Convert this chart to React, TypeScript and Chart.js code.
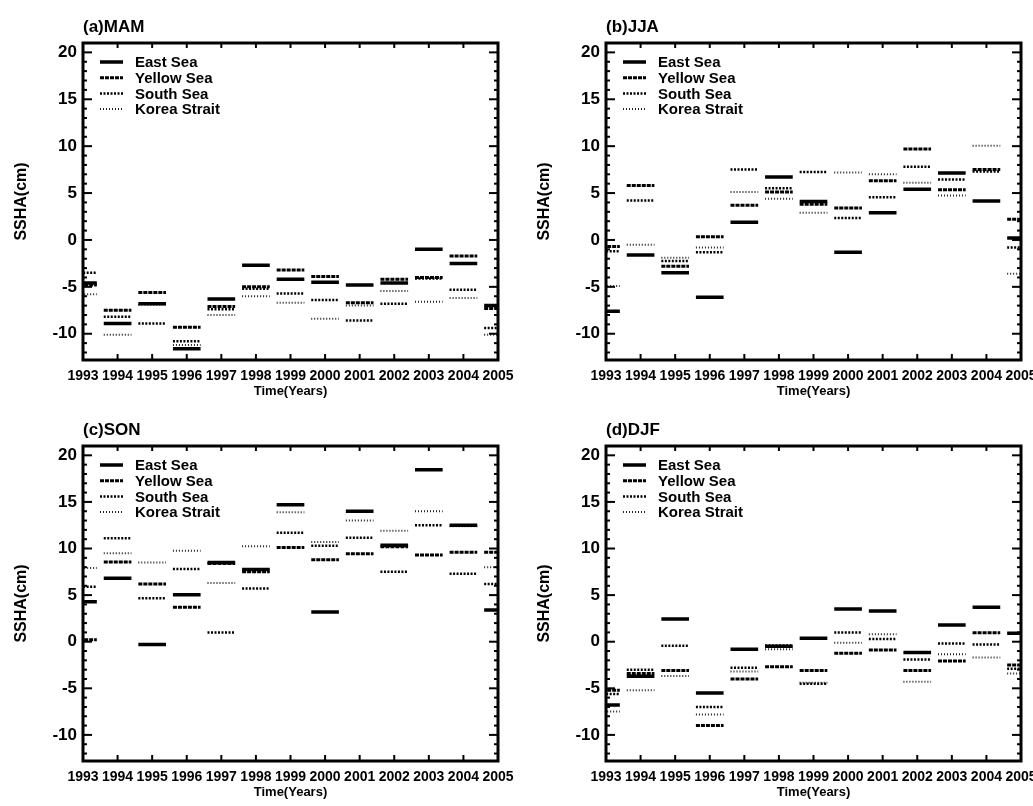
import React, { useEffect, useRef } from "react";
import { Chart, registerables } from "chart.js";

Chart.register(...registerables);

// ---------- data ----------
const years = [1993, 1994, 1995, 1996, 1997, 1998, 1999, 2000, 2001, 2002, 2003, 2004, 2005];
const seriesNames = ["East Sea", "Yellow Sea", "South Sea", "Korea Strait"];
const yTickValues = [-10, -5, 0, 5, 10, 15, 20];
const yMin = -12.8;
const yMax = 21;
const panelTitles = ["(a)MAM", "(b)JJA", "(c)SON", "(d)DJF"];

// (a) MAM
const mamEast = [-4.6, -8.9, -6.8, -11.6, -6.3, -2.7, -4.2, -4.5, -4.8, -4.6, -1.0, -2.5, -7.0];
const mamYellow = [-4.8, -7.5, -5.6, -9.3, -7.1, -5.0, -3.2, -3.9, -6.7, -4.2, -4.0, -1.7, -7.3];
const mamSouth = [-3.5, -8.2, -8.9, -10.8, -7.4, -5.2, -5.7, -6.4, -8.6, -6.8, -4.1, -5.3, -9.4];
const mamKorea = [-5.8, -10.1, -6.9, -11.2, -8.0, -6.0, -6.7, -8.4, -7.0, -5.45, -6.6, -6.2, -10.1];

// (b) JJA
const jjaEast = [-7.6, -1.6, -3.5, -6.1, 1.9, 6.7, 4.1, -1.3, 2.9, 5.4, 7.15, 4.15, 0.2];
const jjaYellow = [-0.7, 5.8, -2.8, 0.35, 3.7, 5.1, 3.8, 3.4, 6.3, 9.7, 5.35, 7.5, 2.2];
const jjaSouth = [-1.2, 4.2, -2.25, -1.3, 7.5, 5.5, 7.25, 2.35, 4.55, 7.8, 6.45, 7.3, -0.8];
const jjaKorea = [-4.9, -0.5, -1.9, -0.8, 5.1, 4.4, 2.9, 7.2, 7.0, 6.1, 4.75, 10.05, -3.6];

// (c) SON
const sonEast = [4.3, 6.8, -0.3, 5.05, 8.5, 7.75, 14.7, 3.2, 14.0, 10.35, 18.45, 12.5, 3.4];
const sonYellow = [0.2, 8.55, 6.2, 3.7, 8.4, 7.5, 10.1, 8.8, 9.45, 10.2, 9.3, 9.6, 9.6];
const sonSouth = [5.9, 11.1, 4.65, 7.8, 1.0, 5.7, 11.7, 10.3, 11.15, 7.5, 12.5, 7.3, 6.2];
const sonKorea = [7.9, 9.5, 8.5, 9.75, 6.3, 10.25, 13.9, 10.7, 13.0, 11.9, 14.0, 12.4, 8.0];

// (d) DJF
const djfEast = [-6.8, -3.7, 2.43, -5.5, -0.8, -0.5, 0.36, 3.5, 3.3, -1.15, 1.8, 3.7, 0.9];
const djfYellow = [-5.2, -3.4, -3.1, -9.0, -4.0, -2.7, -3.1, -1.25, -0.9, -3.1, -2.07, 0.97, -2.5];
const djfSouth = [-5.6, -3.0, -0.43, -7.0, -2.8, -0.4, -4.5, 1.0, 0.3, -1.9, -0.2, -0.3, -2.9];
const djfKorea = [-7.5, -5.2, -3.67, -7.8, -3.2, -0.8, -4.4, -0.1, 0.8, -4.3, -1.35, -1.7, -3.4];

const panelSeries = [
  [mamEast, mamYellow, mamSouth, mamKorea],
  [jjaEast, jjaYellow, jjaSouth, jjaKorea],
  [sonEast, sonYellow, sonSouth, sonKorea],
  [djfEast, djfYellow, djfSouth, djfKorea],
];

// ---------- styles ----------
const lineStyles = [
  { color: "#000", width: 3.5, dash: [] as number[] },
  { color: "#000", width: 3, dash: [4, 1] },
  { color: "#000", width: 2.5, dash: [2, 1.5] },
  { color: "#222", width: 2, dash: [1, 2] },
];
const HALF = 0.4;
const FONT = '"Liberation Sans", Arial, sans-serif';

// canvas placement and chart-area geometry (px)
const panelBoxes = [
  { left: 0, top: 0, w: 515, h: 400, areaLeft: 83, areaTop: 43, areaRight: 498, areaBottom: 360 },
  { left: 520, top: 0, w: 513, h: 400, areaLeft: 86, areaTop: 43, areaRight: 501, areaBottom: 360 },
  { left: 0, top: 403, w: 515, h: 403, areaLeft: 83, areaTop: 43, areaRight: 498, areaBottom: 358 },
  { left: 520, top: 403, w: 513, h: 403, areaLeft: 86, areaTop: 43, areaRight: 501, areaBottom: 358 },
];

function buildSegments(values: number[]) {
  const pts: { x: number; y: number | null }[] = [];
  values.forEach((v, i) => {
    pts.push({ x: years[i] - HALF, y: v });
    pts.push({ x: years[i] + HALF, y: v });
    pts.push({ x: years[i] + HALF, y: null });
  });
  return pts;
}

const framePlugin = {
  id: "frame",
  afterDraw(chart: any, _args: any, opts: any) {
    const { ctx, chartArea: a, scales } = chart;
    const xs = scales.x;
    const ys = scales.y;
    const seg = (x1: number, y1: number, x2: number, y2: number) => {
      ctx.beginPath();
      ctx.moveTo(x1, y1);
      ctx.lineTo(x2, y2);
      ctx.stroke();
    };
    ctx.save();
    ctx.strokeStyle = "#000";
    ctx.fillStyle = "#000";
    ctx.setLineDash([]);
    ctx.lineWidth = 3;
    ctx.strokeRect(a.left, a.top, a.right - a.left, a.bottom - a.top);

    ctx.lineWidth = 2;
    for (let v = Math.ceil(ys.min); v <= ys.max; v++) {
      const py = ys.getPixelForValue(v);
      const len = v % 5 === 0 ? 9 : 4;
      seg(a.left, py, a.left + len, py);
      seg(a.right, py, a.right - len, py);
    }
    years.forEach((yr) => {
      const px = xs.getPixelForValue(yr);
      seg(px, a.bottom, px, a.bottom - 6);
      seg(px, a.top, px, a.top + 5);
    });

    // panel title
    ctx.font = `bold 17px ${FONT}`;
    ctx.textAlign = "left";
    ctx.textBaseline = "middle";
    ctx.fillText(opts.title, a.left, a.top - 16);

    // y title
    ctx.save();
    ctx.translate(a.left - 61, (a.top + a.bottom) / 2);
    ctx.rotate(-Math.PI / 2);
    ctx.textAlign = "center";
    ctx.font = `bold 16px ${FONT}`;
    ctx.fillText("SSHA(cm)", 0, 0);
    ctx.restore();

    // x title
    ctx.font = `bold 13px ${FONT}`;
    ctx.textAlign = "center";
    ctx.fillText("Time(Years)", (a.left + a.right) / 2, a.bottom + 31);

    // legend
    ctx.font = `bold 15px ${FONT}`;
    ctx.textAlign = "left";
    chart.data.datasets.forEach((ds: any, i: number) => {
      const ly = a.top + 19 + i * 15.7;
      ctx.strokeStyle = ds.borderColor;
      ctx.lineWidth = ds.borderWidth;
      ctx.setLineDash(ds.borderDash || []);
      seg(a.left + 17, ly, a.left + 40, ly);
      ctx.setLineDash([]);
      ctx.fillText(ds.label, a.left + 52, ly + 1);
    });
    ctx.restore();
  },
};

function Panel({ idx }: { idx: number }) {
  const ref = useRef<HTMLCanvasElement | null>(null);
  const box = panelBoxes[idx];
  useEffect(() => {
    if (!ref.current) return;
    const datasets = panelSeries[idx].map((vals, i) => ({
      type: "line" as const,
      label: seriesNames[i],
      data: buildSegments(vals),
      borderColor: lineStyles[i].color,
      borderWidth: lineStyles[i].width,
      borderDash: lineStyles[i].dash,
      pointRadius: 0,
      spanGaps: false,
      clip: 0,
      fill: false,
      tension: 0,
    }));
    const chart = new Chart(ref.current, {
      type: "line",
      data: { datasets },
      options: {
        animation: false,
        responsive: false,
        maintainAspectRatio: false,
        events: [],
        layout: {
          padding: { top: box.areaTop, right: box.w - box.areaRight, left: 0, bottom: 0 },
        },
        plugins: {
          legend: { display: false },
          tooltip: { enabled: false },
          frame: { title: panelTitles[idx] },
        } as any,
        scales: {
          x: {
            type: "linear",
            min: years[0],
            max: years[years.length - 1],
            grid: { display: false, drawTicks: false },
            border: { display: false },
            afterBuildTicks: (s: any) => {
              s.ticks = years.map((v) => ({ value: v }));
            },
            afterFit: (s: any) => {
              s.height = box.h - box.areaBottom;
              s.paddingLeft = 0;
              s.paddingRight = 0;
            },
            ticks: {
              autoSkip: false,
              maxRotation: 0,
              minRotation: 0,
              padding: 8,
              color: "#000",
              font: { family: FONT, size: 14, weight: "bold" },
              callback: (v: any) => String(v),
            },
          },
          y: {
            type: "linear",
            min: yMin,
            max: yMax,
            grid: { display: false, drawTicks: false },
            border: { display: false },
            afterBuildTicks: (s: any) => {
              s.ticks = yTickValues.map((v) => ({ value: v }));
            },
            afterFit: (s: any) => {
              s.width = box.areaLeft;
              s.paddingTop = 0;
              s.paddingBottom = 0;
            },
            ticks: {
              padding: 6,
              color: "#000",
              font: { family: FONT, size: 17, weight: "bold" },
              callback: (v: any) => String(v),
            },
          },
        },
      },
      plugins: [framePlugin],
    } as any);
    return () => chart.destroy();
  }, [idx]);
  return (
    <canvas
      ref={ref}
      width={box.w}
      height={box.h}
      style={{ position: "absolute", left: box.left, top: box.top, width: box.w, height: box.h }}
    />
  );
}

export default function App() {
  return (
    <div
      style={{
        position: "absolute",
        left: 0,
        top: 0,
        width: 1033,
        height: 806,
        overflow: "hidden",
        background: "#fff",
      }}
    >
      {[0, 1, 2, 3].map((i) => (
        <Panel key={i} idx={i} />
      ))}
    </div>
  );
}
